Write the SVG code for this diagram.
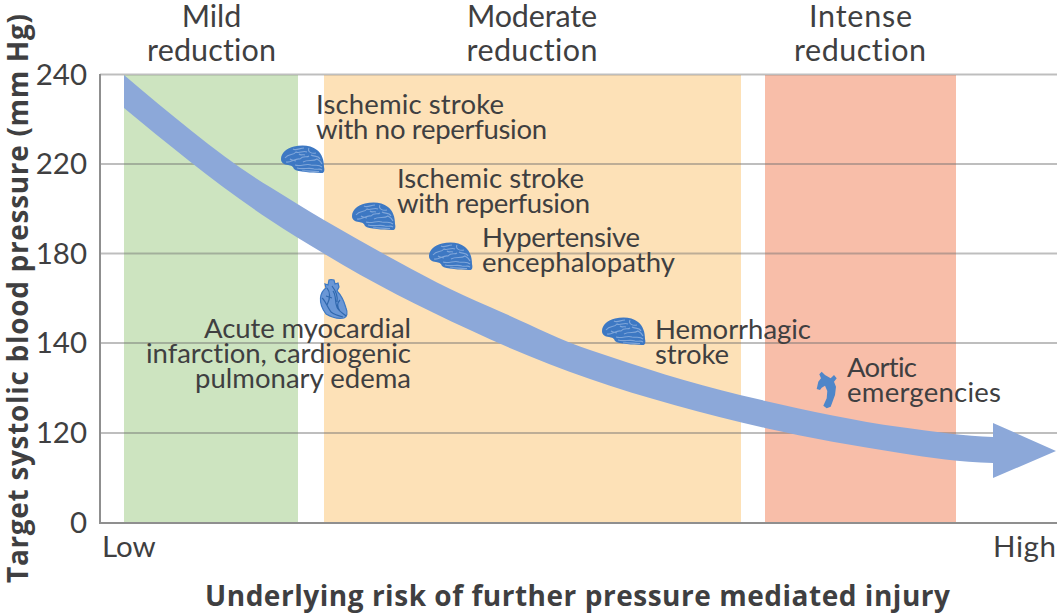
<svg xmlns="http://www.w3.org/2000/svg" width="1057" height="616" viewBox="0 0 1057 616">
<style>
text{font-family:Lato,"Noto Sans","Liberation Sans",sans-serif;font-size:27.5px;fill:#3f3f41;font-variant-ligatures:none}
.h{font-size:30.5px}
.t{font-size:29.500px}
.b{font-family:"Open Sans","Noto Sans",sans-serif;font-weight:700;font-size:28px;fill:#3f3f41}
.grid{stroke:#6e6e6e;stroke-opacity:.45;stroke-width:2;fill:none}
.axis{stroke:#8f8f8f;stroke-width:2;fill:none}
.brain{fill:#3d78c3}
.fold{fill:none;stroke:#7fa6da;stroke-width:1.100}
.organ{fill:#4f86c9}
.heart{fill:#6a97d6;stroke:#3d78c3;stroke-width:1.200}
.heartline{fill:none;stroke:#2f67ad;stroke-width:1.200}
</style>
<defs>
<g id="brainShape">
<path class="brain" d="M0,14C0,8 6,3 13,1.500C21,-.5 30,0 36,5C41,9 43,15 43,22C44,26 43,28.500 40,28C35,27.500 30,28 25,27C19,26.500 15,26 13,24C12,21 10,20.500 7,20C3,19.500 0,18 0,14Z"/>
<path class="fold" d="M4,13C8,8 12,11 15,7C18,9 22,5 26,7M12,4C15,6 19,3 23,3M28,3C26,7 31,9 35,8M30,10C33,12 37,10 39,14M5,17C10,18 14,13 19,14C22,10 26,13 28,11M18,9C20,11 22,9 24,10M22,17C27,14 32,17 36,14C38,15 40,17 41,19M14,20C20,22 25,18 30,20C34,21 38,19 41,22M16,23C22,25 28,22 33,24C36,25 39,23 41,25M21,26C26,25 32,27 38,26.500M9,14C11,16 13,15 15,16"/>
</g>
</defs>
<g id="bands">
<rect x="124" y="75" width="174" height="447" fill="#cde4c0"/>
<rect x="324" y="75" width="417" height="447" fill="#fde1b7"/>
<rect x="765" y="75" width="191" height="447" fill="#f8bea9"/>
</g>
<g id="axes">
<path class="grid" d="M100,74.500H1057M100,164H1057M100,253.500H1057M100,343H1057M100,433H1057"/>
<path class="axis" d="M100,74V523H1057"/>
</g>
<g id="connectors">
<path id="trend-arrow" fill="#8ca8d9" d="M124,75C175,118 225,160 270,187C288,198 305,209 324,220C380,252 435,284 490,307C525,322 555,338 590,350C640,367 690,383 740,395C795,408 850,420 900,427C935,432 965,436 993,437V423L1056,451L993,478V463C960,462 930,458 900,453C855,446 810,438 765,428C705,414 645,398 590,379C550,365 510,349 470,330C420,307 370,282 323,253C305,242 288,232 270,220C220,187 170,146 124,108Z"/>
</g>
<g id="y-axis-labels">
<text class="t" x="87" y="85" text-anchor="end">240</text>
<text class="t" x="87" y="174" text-anchor="end">220</text>
<text class="t" x="87" y="264" text-anchor="end">180</text>
<text class="t" x="87" y="353" text-anchor="end">140</text>
<text class="t" x="87" y="443" text-anchor="end">120</text>
<text class="t" x="87" y="532.500" text-anchor="end">0</text>
</g>
<g id="band-mild"><text class="h" x="211.500" y="27" text-anchor="middle">Mild</text><text class="h" x="211.500" y="60.500" text-anchor="middle" textLength="129">reduction</text></g>
<g id="band-moderate"><text class="h" x="532" y="27" text-anchor="middle" textLength="130">Moderate</text><text class="h" x="532" y="60.500" text-anchor="middle" textLength="131">reduction</text></g>
<g id="band-intense"><text class="h" x="860.500" y="27" text-anchor="middle" textLength="103">Intense</text><text class="h" x="860" y="60.500" text-anchor="middle" textLength="132">reduction</text></g>
<g id="node-ischemic-no-reperfusion">
<use href="#brainShape" x="281" y="145"/>
<text x="316" y="114" textLength="188">Ischemic stroke</text><text x="316" y="139" textLength="231">with no reperfusion</text>
</g>
<g id="node-ischemic-reperfusion">
<use href="#brainShape" x="352" y="202"/>
<text x="397" y="188" textLength="187">Ischemic stroke</text><text x="397" y="213" textLength="193">with reperfusion</text>
</g>
<g id="node-hypertensive">
<use href="#brainShape" x="429" y="242"/>
<text x="482" y="247" textLength="158">Hypertensive</text><text x="482" y="272" textLength="193">encephalopathy</text>
</g>
<g id="node-hemorrhagic">
<use href="#brainShape" x="602" y="317"/>
<text x="655" y="339" textLength="156">Hemorrhagic</text><text x="655" y="364" textLength="74">stroke</text>
</g>
<g id="node-aortic">
<path class="organ" d="M821.700,371.700L825,375L830.700,378.300L834,375L836.700,378.300L834,381.700L836,386.700L835,395L830.700,406.700L826.700,408.300L823.300,405.700L826.700,398.300L827.300,391L825,385.700L821.700,387.700L820,390L816.700,389L818.300,381.700L821,378.300L819.300,374.300Z"/>
<text x="847" y="377" textLength="70">Aortic</text><text x="847" y="402" textLength="154">emergencies</text>
</g>
<g id="node-acute-mi">
<path class="heart" d="M331,279.500L334,280L335,284L338,283L339,287L337,291C341,295 344,301 346,308C348,313 347,317 344,318C338,319 331,317 326,314C323,310 320,304 320.500,298C321,293 323,290 326,288L325,284L328,285L329,280Z"/>
<path class="heartline" d="M327,288C331,293 330,299 327,305M332,286C336,291 338,296 337,302M333,291C337,296 334,303 338,309C340,312 344,314 346,316M322,298C325,300 326,305 331,312C335,315 339,316 343,317M340,300C337,303 337,307 340,311M326,296L332,298"/>
<text x="411" y="338" text-anchor="end" textLength="207">Acute myocardial</text>
<text x="411" y="363" text-anchor="end" textLength="265">infarction, cardiogenic</text>
<text x="411" y="388" text-anchor="end" textLength="216">pulmonary edema</text>
</g>
<g id="x-axis-labels">
<text class="t" x="102" y="557">Low</text>
<text class="t" x="993" y="557" textLength="63">High</text>
<text class="b" x="205" y="606" textLength="745">Underlying risk of further pressure mediated injury</text>
</g>
<text class="b" transform="translate(28,583) rotate(-90)" textLength="569">Target systolic blood pressure (mm Hg)</text>
</svg>
